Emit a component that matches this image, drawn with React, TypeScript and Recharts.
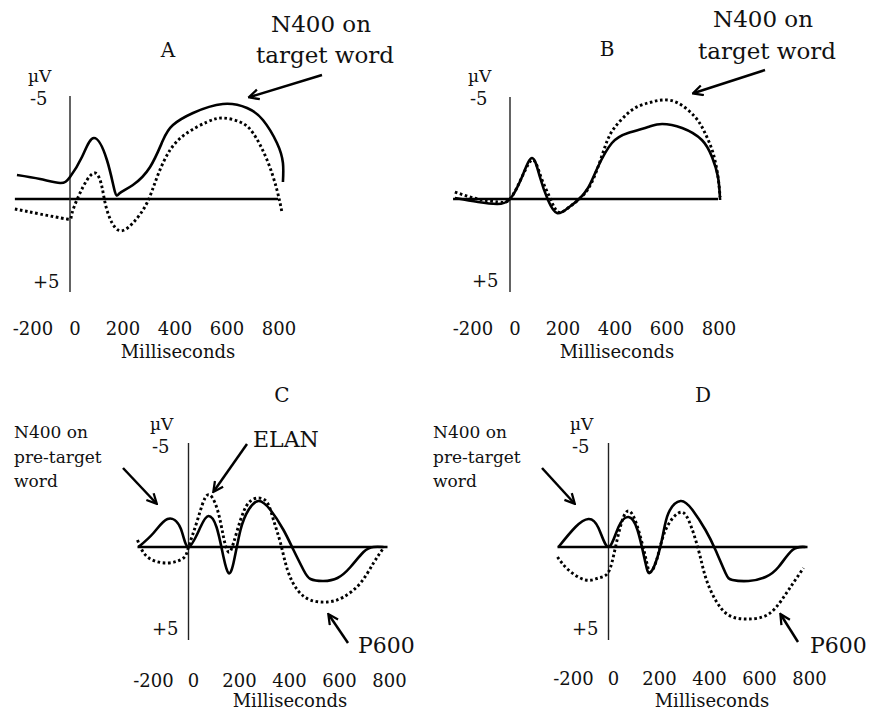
import { LineChart, Line, XAxis, YAxis, ReferenceLine } from 'recharts'

// ms, µV (negative plotted upward)
const msTicks = [-200, 0, 200, 400, 600, 800]

const aSolid = [
  { ms: -204, v: -1.2 }, { ms: -115, v: -1.0 }, { ms: -38, v: -0.8 }, { ms: 0, v: -1.1 },
  { ms: 46, v: -2.1 }, { ms: 92, v: -3.05 }, { ms: 142, v: -1.95 }, { ms: 173, v: -0.35 },
  { ms: 192, v: -0.3 }, { ms: 242, v: -0.7 }, { ms: 308, v: -1.6 }, { ms: 358, v: -2.95 },
  { ms: 396, v: -3.7 }, { ms: 473, v: -4.3 }, { ms: 588, v: -4.75 }, { ms: 681, v: -4.55 },
  { ms: 742, v: -3.95 }, { ms: 796, v: -2.8 }, { ms: 819, v: -1.8 }, { ms: 819, v: -0.85 },
]
const aDotted = [
  { ms: -212, v: 0.5 }, { ms: -115, v: 0.75 }, { ms: -12, v: 1.0 }, { ms: 8, v: 0.7 },
  { ms: 50, v: -0.6 }, { ms: 96, v: -1.3 }, { ms: 123, v: -0.6 }, { ms: 142, v: 0.55 },
  { ms: 185, v: 1.55 }, { ms: 242, v: 1.2 }, { ms: 296, v: 0.2 }, { ms: 335, v: -1.1 },
  { ms: 385, v: -2.45 }, { ms: 450, v: -3.3 }, { ms: 527, v: -3.85 }, { ms: 588, v: -4.05 },
  { ms: 654, v: -3.85 }, { ms: 704, v: -3.3 }, { ms: 758, v: -1.95 }, { ms: 796, v: -0.45 },
  { ms: 815, v: 0.65 },
]

const bSolid = [
  { ms: -212, v: -0.05 }, { ms: -123, v: 0.15 }, { ms: -50, v: 0.25 }, { ms: 0, v: 0 },
  { ms: 46, v: -1.1 }, { ms: 85, v: -2.05 }, { ms: 115, v: -1.1 }, { ms: 146, v: 0.05 },
  { ms: 181, v: 0.7 }, { ms: 223, v: 0.45 }, { ms: 262, v: 0.05 }, { ms: 300, v: -0.55 },
  { ms: 338, v: -1.6 }, { ms: 392, v: -2.8 }, { ms: 454, v: -3.3 }, { ms: 531, v: -3.6 },
  { ms: 585, v: -3.75 }, { ms: 662, v: -3.55 }, { ms: 738, v: -2.95 }, { ms: 777, v: -2.1 },
  { ms: 800, v: -1.1 }, { ms: 808, v: 0.05 },
]
const bDotted = [
  { ms: -212, v: -0.35 }, { ms: -123, v: 0 }, { ms: -46, v: 0.15 }, { ms: 0, v: 0 },
  { ms: 46, v: -1.1 }, { ms: 88, v: -1.95 }, { ms: 119, v: -1.1 }, { ms: 154, v: -0.05 },
  { ms: 185, v: 0.65 }, { ms: 223, v: 0.45 }, { ms: 262, v: 0.05 }, { ms: 315, v: -0.85 },
  { ms: 365, v: -2.6 }, { ms: 404, v: -3.6 }, { ms: 469, v: -4.45 }, { ms: 531, v: -4.8 },
  { ms: 585, v: -4.95 }, { ms: 646, v: -4.8 }, { ms: 712, v: -4.1 }, { ms: 750, v: -3.3 },
  { ms: 781, v: -2.3 }, { ms: 800, v: -1.1 }, { ms: 808, v: -0.1 },
]

const cSolid = [
  { ms: -200, v: 0 }, { ms: -140, v: -0.7 }, { ms: -84, v: -1.4 }, { ms: -32, v: -0.95 },
  { ms: 0, v: 0 }, { ms: 48, v: -1.0 }, { ms: 80, v: -1.55 }, { ms: 112, v: -1.0 },
  { ms: 140, v: 0.5 }, { ms: 160, v: 1.3 }, { ms: 180, v: 0.8 }, { ms: 208, v: -0.85 },
  { ms: 240, v: -1.85 }, { ms: 280, v: -2.3 }, { ms: 328, v: -1.85 }, { ms: 380, v: -0.85 },
  { ms: 420, v: 0.15 }, { ms: 460, v: 1.15 }, { ms: 488, v: 1.6 }, { ms: 540, v: 1.7 },
  { ms: 596, v: 1.55 }, { ms: 648, v: 1.0 }, { ms: 700, v: 0.25 }, { ms: 740, v: 0 },
  { ms: 780, v: 0 },
]
const cDotted = [
  { ms: -204, v: -0.35 }, { ms: -164, v: 0.5 }, { ms: -84, v: 0.8 }, { ms: -20, v: 0.55 },
  { ms: 0, v: 0 }, { ms: 36, v: -1.35 }, { ms: 76, v: -2.6 }, { ms: 116, v: -1.85 },
  { ms: 140, v: -0.5 }, { ms: 160, v: 0.25 }, { ms: 180, v: -0.2 }, { ms: 208, v: -1.35 },
  { ms: 240, v: -2.2 }, { ms: 280, v: -2.45 }, { ms: 316, v: -2.2 }, { ms: 340, v: -1.35 },
  { ms: 368, v: -0.2 }, { ms: 396, v: 1.15 }, { ms: 436, v: 2.15 }, { ms: 488, v: 2.65 },
  { ms: 556, v: 2.75 }, { ms: 620, v: 2.5 }, { ms: 688, v: 1.8 }, { ms: 740, v: 0.8 },
  { ms: 780, v: 0.05 },
]

const dSolid = [
  { ms: -200, v: 0 }, { ms: -132, v: -1.0 }, { ms: -80, v: -1.4 }, { ms: -40, v: -0.95 },
  { ms: 0, v: 0 }, { ms: 40, v: -1.0 }, { ms: 80, v: -1.5 }, { ms: 116, v: -0.85 },
  { ms: 148, v: 0.8 }, { ms: 164, v: 1.3 }, { ms: 188, v: 0.8 }, { ms: 216, v: -0.5 },
  { ms: 240, v: -1.7 }, { ms: 288, v: -2.3 }, { ms: 336, v: -1.85 }, { ms: 388, v: -0.85 },
  { ms: 428, v: 0.15 }, { ms: 468, v: 1.3 }, { ms: 496, v: 1.65 }, { ms: 560, v: 1.7 },
  { ms: 628, v: 1.5 }, { ms: 680, v: 1.0 }, { ms: 736, v: 0.15 }, { ms: 788, v: 0 },
]
const dDotted = [
  { ms: -204, v: 0.5 }, { ms: -160, v: 1.15 }, { ms: -92, v: 1.65 }, { ms: -40, v: 1.55 },
  { ms: 0, v: 1.25 }, { ms: 28, v: 0 }, { ms: 60, v: -1.5 }, { ms: 88, v: -1.75 },
  { ms: 116, v: -1.0 }, { ms: 148, v: 0.5 }, { ms: 168, v: 1.25 }, { ms: 196, v: 0.5 },
  { ms: 228, v: -0.85 }, { ms: 280, v: -1.7 }, { ms: 320, v: -1.35 }, { ms: 360, v: 0.15 },
  { ms: 388, v: 1.5 }, { ms: 428, v: 2.65 }, { ms: 480, v: 3.4 }, { ms: 548, v: 3.6 },
  { ms: 616, v: 3.5 }, { ms: 668, v: 3.05 }, { ms: 720, v: 2.15 }, { ms: 780, v: 1.05 },
]

const FONT = '"DejaVu Serif", serif'
const X_DOMAIN = [-250, 900]
const Y_DOMAIN = [-6, 5]
const AXIS_H = 50

type Pt = { ms: number; v: number }

function Tick({ x, y, payload, dy }: any) {
  const nudge = payload.value === -200 ? 15 : payload.value === 0 ? 5 : 1
  return (
    <text x={x + nudge} y={y + dy} textAnchor="middle" fontFamily={FONT} fontSize={18} fill="#111">
      {payload.value}
    </text>
  )
}

function Panel({
  left,
  top,
  kx,
  solid,
  dotted,
  zeroFrom,
  zeroTo,
  vTop,
  tickDy,
}: {
  left: number
  top: number
  kx: number
  solid: Pt[]
  dotted: Pt[]
  zeroFrom: number
  zeroTo: number
  vTop: number
  tickDy: number
}) {
  const w = (X_DOMAIN[1] - X_DOMAIN[0]) * kx
  const h = (Y_DOMAIN[1] - Y_DOMAIN[0]) * 20
  return (
    <div style={{ position: 'absolute', left, top }}>
      <LineChart width={w} height={h + AXIS_H} margin={{ top: 0, right: 0, bottom: 0, left: 0 }}>
        <XAxis
          dataKey="ms"
          type="number"
          domain={X_DOMAIN}
          allowDataOverflow
          ticks={msTicks}
          height={AXIS_H}
          axisLine={false}
          tickLine={false}
          tickSize={0}
          tickMargin={0}
          interval={0}
          tick={<Tick dy={tickDy} />}
        />
        <YAxis type="number" domain={Y_DOMAIN} reversed hide allowDataOverflow />
        <ReferenceLine
          segment={[{ x: zeroFrom, y: 0 }, { x: zeroTo, y: 0 }]}
          stroke="#000"
          strokeWidth={2.5}
        />
        <ReferenceLine
          segment={[{ x: 0, y: vTop }, { x: 0, y: 4.65 }]}
          stroke="#222"
          strokeWidth={1.4}
        />
        <Line
          data={dotted}
          dataKey="v"
          type="natural"
          stroke="#000"
          strokeWidth={2.9}
          strokeDasharray="2.6 2.6"
          dot={false}
          isAnimationActive={false}
        />
        <Line
          data={solid}
          dataKey="v"
          type="natural"
          stroke="#000"
          strokeWidth={2.6}
          dot={false}
          isAnimationActive={false}
        />
      </LineChart>
    </div>
  )
}

const txt = { fontFamily: FONT, fill: '#111' }

function Arrow({ x1, y1, x2, y2 }: { x1: number; y1: number; x2: number; y2: number }) {
  return <line x1={x1} y1={y1} x2={x2} y2={y2} stroke="#000" strokeWidth={2.5} markerEnd="url(#head)" />
}

function AxisLabels({ x, ltop }: { x: number; ltop: number }) {
  return (
    <g>
      <text x={x} y={ltop} fontSize={17} {...txt}>µV</text>
      <text x={x + 2} y={ltop + 23} fontSize={18} {...txt}>-5</text>
    </g>
  )
}

export default function App() {
  return (
    <div style={{ position: 'absolute', left: 0, top: 0, width: 871, height: 714, background: '#fff' }}>
      <Panel left={5} top={79} kx={0.26} solid={aSolid} dotted={aDotted} zeroFrom={-212} zeroTo={800} vTop={-5.15} tickDy={36} />
      <Panel left={445} top={79} kx={0.26} solid={bSolid} dotted={bDotted} zeroFrom={-219} zeroTo={800} vTop={-5.1} tickDy={36} />
      <Panel left={125.5} top={427} kx={0.25} solid={cSolid} dotted={cDotted} zeroFrom={-204} zeroTo={796} vTop={-5.2} tickDy={40} />
      <Panel left={545.5} top={427} kx={0.25} solid={dSolid} dotted={dDotted} zeroFrom={-204} zeroTo={796} vTop={-5.2} tickDy={38} />

      <svg width={871} height={714} style={{ position: 'absolute', left: 0, top: 0, pointerEvents: 'none' }}>
        <defs>
          <marker id="head" viewBox="0 0 10 10" refX="8" refY="5" markerWidth="5" markerHeight="5" orient="auto">
            <path d="M1,1 L9,5 L1,9" fill="none" stroke="#000" strokeWidth={1.8} />
          </marker>
        </defs>

        {/* A */}
        <text x={168} y={57} textAnchor="middle" fontSize={20} {...txt}>A</text>
        <text x={321} y={32} textAnchor="middle" fontSize={23} {...txt}>N400 on</text>
        <text x={325} y={63} textAnchor="middle" fontSize={23} {...txt}>target word</text>
        <Arrow x1={322} y1={75} x2={250} y2={97} />
        <AxisLabels x={28} ltop={82} />
        <text x={33} y={288} fontSize={18} {...txt}>+5</text>
        <text x={178} y={358} textAnchor="middle" fontSize={18} {...txt}>Milliseconds</text>

        {/* B */}
        <text x={607} y={56} textAnchor="middle" fontSize={20} {...txt}>B</text>
        <text x={763} y={27} textAnchor="middle" fontSize={23} {...txt}>N400 on</text>
        <text x={767} y={59} textAnchor="middle" fontSize={23} {...txt}>target word</text>
        <Arrow x1={765} y1={70} x2={694} y2={93} />
        <AxisLabels x={468} ltop={82} />
        <text x={472} y={287} fontSize={18} {...txt}>+5</text>
        <text x={617} y={358} textAnchor="middle" fontSize={18} {...txt}>Milliseconds</text>

        {/* C */}
        <text x={282} y={402} textAnchor="middle" fontSize={20} {...txt}>C</text>
        <text x={14} y={438} fontSize={17} {...txt}>N400 on</text>
        <text x={14} y={463} fontSize={17} {...txt}>pre-target</text>
        <text x={14} y={487} fontSize={17} {...txt}>word</text>
        <Arrow x1={123} y1={468} x2={156} y2={503} />
        <text x={253} y={447} fontSize={22} {...txt}>ELAN</text>
        <Arrow x1={247} y1={444} x2={214} y2={491} />
        <text x={358} y={653} fontSize={22} {...txt}>P600</text>
        <Arrow x1={348} y1={643} x2={329} y2={615} />
        <AxisLabels x={150} ltop={430} />
        <text x={152} y={635} fontSize={18} {...txt}>+5</text>
        <text x={290} y={707} textAnchor="middle" fontSize={18} {...txt}>Milliseconds</text>

        {/* D */}
        <text x={703} y={402} textAnchor="middle" fontSize={20} {...txt}>D</text>
        <text x={433} y={438} fontSize={17} {...txt}>N400 on</text>
        <text x={433} y={463} fontSize={17} {...txt}>pre-target</text>
        <text x={433} y={487} fontSize={17} {...txt}>word</text>
        <Arrow x1={542} y1={468} x2={574} y2={503} />
        <text x={810} y={653} fontSize={22} {...txt}>P600</text>
        <Arrow x1={798} y1={642} x2={781} y2={615} />
        <AxisLabels x={570} ltop={430} />
        <text x={572} y={635} fontSize={18} {...txt}>+5</text>
        <text x={712} y={707} textAnchor="middle" fontSize={18} {...txt}>Milliseconds</text>
      </svg>
    </div>
  )
}
